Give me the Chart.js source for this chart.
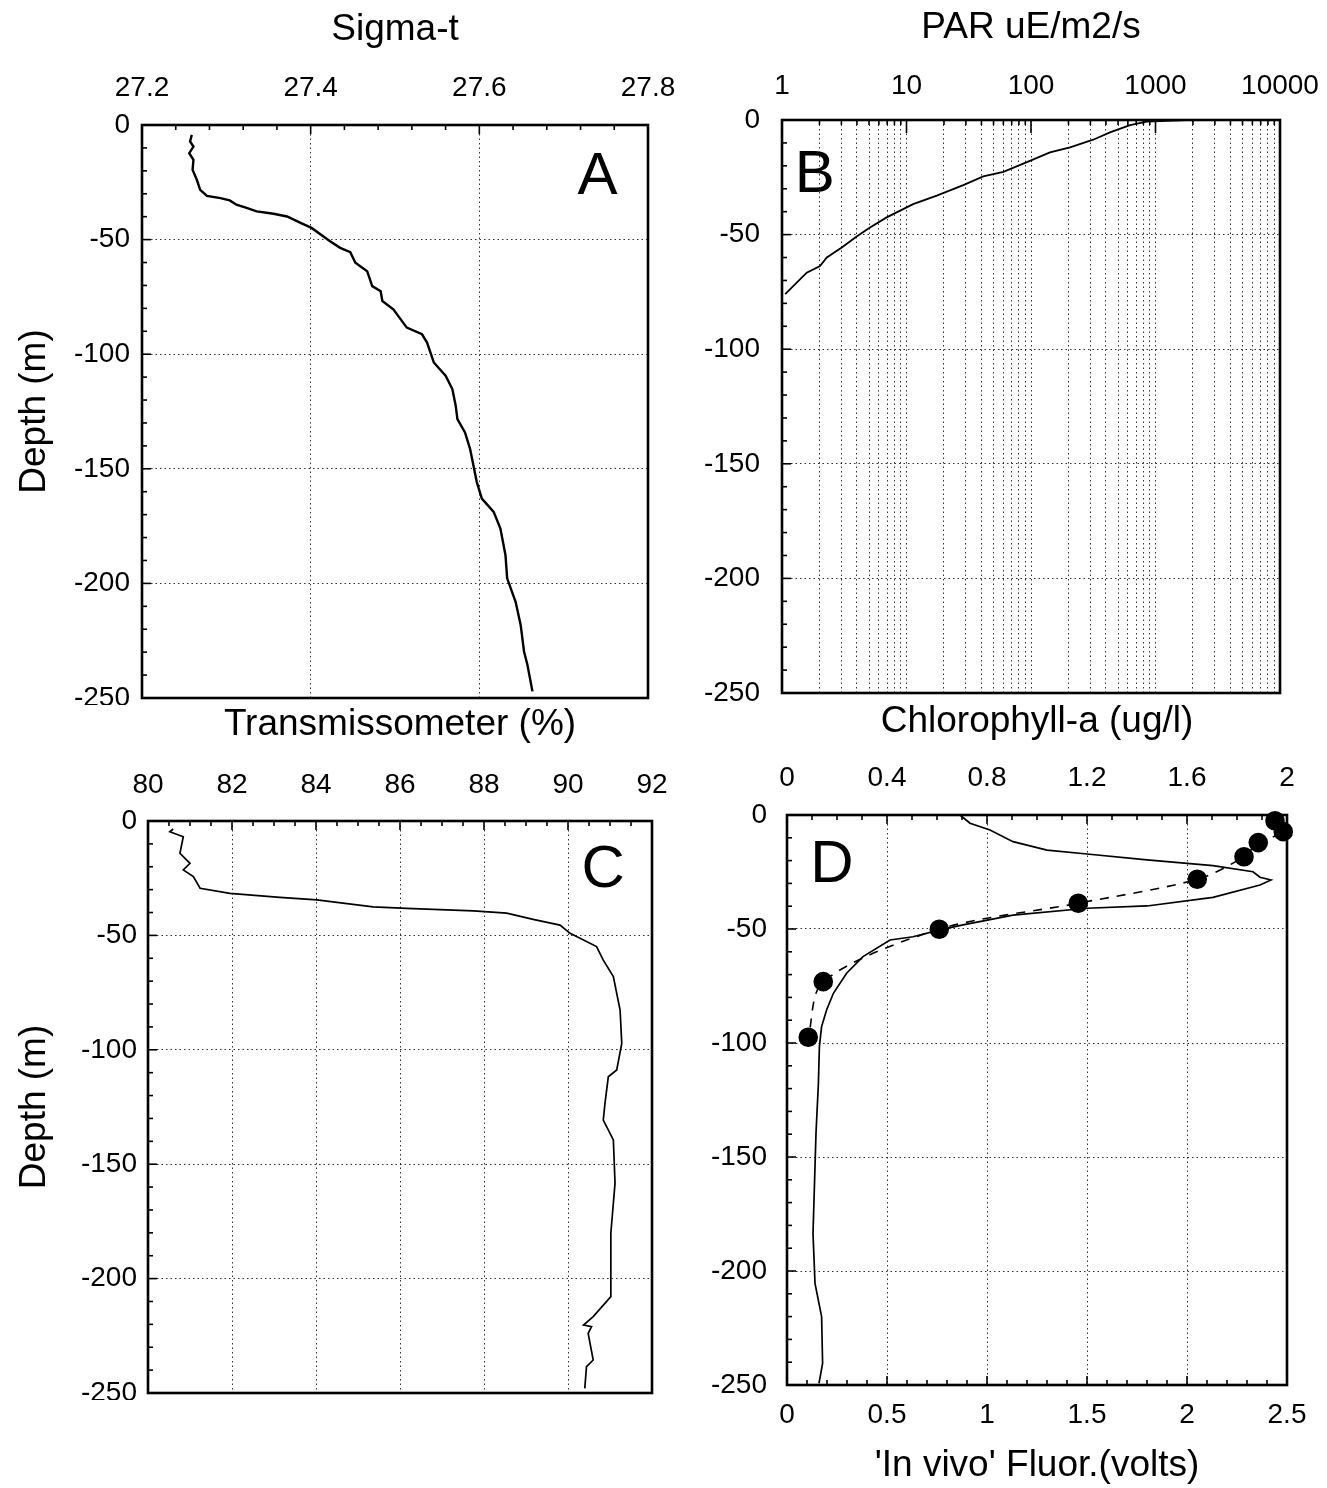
<!DOCTYPE html>
<html>
<head>
<meta charset="utf-8">
<script src="https://cdn.jsdelivr.net/npm/chart.js@4.4.0/dist/chart.umd.min.js"></script>
<style>
  body { margin: 0; background: #fff; width: 1327px; height: 1488px; position: relative; overflow: hidden; }
  canvas { position: absolute; }
</style>
</head>
<body>
<canvas id="chartA" width="680" height="705" style="left:0;top:0"></canvas>
<canvas id="chartB" width="637" height="705" style="left:690px;top:0"></canvas>
<canvas id="chartC" width="680" height="700" style="left:0;top:700px"></canvas>
<canvas id="chartD" width="637" height="788" style="left:690px;top:700px"></canvas>
<script>
// A: sigma-t profile
const sigmaDepth = [-4.3, -7.2, -9.4, -12.3, -15.2, -19.6, -23.9, -28.3, -30.9, -31.9, -32.9, -34.8, -36.2, -37.7,
  -38.7, -39.9, -42.7, -44.9, -50.7, -53.6, -55.5, -60.1, -63.8, -70.3, -72.5, -76.8, -80.4, -88.4, -91.3, -94.9,
  -103.6, -109.4, -115.2, -122.5, -128.3, -134.1, -141.3, -155.8, -163, -168.8, -176.1, -187.7, -197.8, -208,
  -218.1, -229.7, -235.5, -247.1];
const sigmaT = [27.259, 27.257, 27.261, 27.256, 27.261, 27.260, 27.265, 27.269, 27.277, 27.293, 27.304, 27.312,
  27.324, 27.336, 27.356, 27.372, 27.388, 27.401, 27.423, 27.435, 27.447, 27.453, 27.467, 27.473, 27.483, 27.485,
  27.498, 27.514, 27.532, 27.538, 27.546, 27.560, 27.568, 27.572, 27.574, 27.583, 27.589, 27.597, 27.603, 27.617,
  27.625, 27.631, 27.633, 27.643, 27.649, 27.653, 27.657, 27.663];

// B: PAR profile
const parDepth = [-76.0, -66.6, -63.7, -60.0, -55.6, -50.8, -46.9, -42.5, -36.7, -33.0, -28.4, -24.6, -22.6,
  -17.8, -14.1, -11.9, -8.6, -5.4, -2.2, -0.7, 0];
const parValues = [1.06, 1.58, 2.02, 2.29, 3.02, 3.98, 5.09, 6.93, 11.3, 17.5, 28.6, 41.4, 60, 98, 142, 206,
  316, 431, 624, 850, 1780];

// C: transmissometer profile
const transDepth = [-3.5, -4.7, -6.9, -14.1, -18.5, -21.4, -24.3, -29.4, -31.6, -33.4, -34.5, -37.5, -38.2,
  -39.3, -40.3, -43, -45.5, -49.1, -54.9, -60.8, -68, -82.6, -97.2, -108.8, -111.8, -123.4, -130.7, -139.4,
  -158.3, -180.2, -207.9, -216.6, -220.3, -221, -223.9, -235.6, -238.5, -248];
const transValues = [80.6, 80.52, 80.84, 80.76, 81.0, 80.84, 81.08, 81.24, 81.95, 83.14, 84.02, 85.36, 86.16,
  87.75, 88.54, 89.17, 89.81, 90.05, 90.68, 90.84, 91.08, 91.24, 91.28, 91.16, 90.96, 90.88, 90.84, 91.08,
  91.12, 91.02, 91.02, 90.6, 90.37, 90.56, 90.48, 90.6, 90.44, 90.4];

// D: in vivo fluorescence and chlorophyll-a
const fluorDepth = [0, -3.6, -6.6, -11.7, -15.4, -17.1, -19.7, -22.2, -24.9, -27.3, -28.5, -30.7, -36.1, -39.9,
  -40.9, -43.9, -48.2, -50.4, -53.4, -54.8, -62.1, -69.4, -78.2, -85.5, -92.8, -101.6, -117.7, -139.6, -183.5,
  -205.4, -220, -240.5, -249.3];
const fluorVolts = [0.865, 0.915, 1.015, 1.13, 1.30, 1.50, 1.80, 2.13, 2.33, 2.365, 2.42, 2.365, 2.13, 1.80,
  1.50, 1.13, 0.88, 0.765, 0.63, 0.515, 0.38, 0.298, 0.232, 0.198, 0.173, 0.162, 0.157, 0.145, 0.13, 0.14,
  0.173, 0.178, 0.16];
const chlDepth = [-2.5, -7.3, -12.1, -18.3, -28.2, -38.7, -50.1, -73.1, -97.5];
const chlValues = [1.952, 1.985, 1.885, 1.828, 1.641, 1.165, 0.609, 0.145, 0.085];

const depthTicks = [0, -50, -100, -150, -200, -250];
const sigmaTicks = [27.2, 27.4, 27.6, 27.8];
const parTicks = [1, 10, 100, 1000, 10000];
const transTicks = [80, 82, 84, 86, 88, 90, 92];
const fluorTicks = [0, 0.5, 1, 1.5, 2, 2.5];
const chlTicks = [0, 0.4, 0.8, 1.2, 1.6, 2];

const FONT = '"Liberation Sans", Arial, Helvetica, sans-serif';
Chart.defaults.font.family = FONT;
Chart.defaults.color = '#000';

const tickFont = { size: 28 };
const titleFont = { size: 37 };

function pts(xs, ys) {
  return xs.map((x, i) => ({ x: x, y: ys[i] }));
}

// scales should not push the plot area around
function fixSize(s, w, h) {
  if (w) s.width = w;
  if (h) s.height = h;
  s.paddingLeft = 0; s.paddingRight = 0; s.paddingTop = 0; s.paddingBottom = 0;
}

// inner tick marks, frame and panel letter
const frameMarks = {
  id: 'frameMarks',
  afterDatasetsDraw(chart, args, opts) {
    const { ctx, chartArea: a } = chart;
    ctx.save();
    ctx.strokeStyle = '#000';
    ctx.lineWidth = 1.6;
    (opts.marks || []).forEach(m => {
      const s = chart.scales[m.axis];
      const vals = [];
      if (m.log) {
        for (let k = 0; k < 4; k++) for (let j = 1; j < 10; j++) vals.push({ v: j * Math.pow(10, k), big: j === 1 });
      } else {
        const n = Math.round((s.max - s.min) / m.step);
        for (let i = 0; i <= n; i++) vals.push({ v: s.min + i * m.step, big: i % m.every === 0 });
      }
      vals.forEach(o => {
        const p = s.getPixelForValue(o.v);
        const len = o.big ? (m.log ? 13 : 9) : 5;
        ctx.beginPath();
        if (m.side === 'top') { ctx.moveTo(p, a.top); ctx.lineTo(p, a.top + len); }
        else if (m.side === 'bottom') { ctx.moveTo(p, a.bottom); ctx.lineTo(p, a.bottom - len); }
        else { ctx.moveTo(a.left, p); ctx.lineTo(a.left + len, p); }
        ctx.stroke();
      });
    });
    ctx.lineWidth = 2.6;
    ctx.strokeRect(a.left, a.top, a.right - a.left, a.bottom - a.top);
    if (opts.letter) {
      ctx.fillStyle = '#000';
      ctx.font = '60px ' + FONT;
      ctx.textAlign = 'center';
      ctx.textBaseline = 'middle';
      ctx.fillText(opts.letter, a.left + opts.lx * (a.right - a.left), a.top + opts.ly * (a.bottom - a.top));
    }
    ctx.restore();
  }
};

function gridOpts() {
  return { color: 'rgba(0,0,0,0.8)', lineWidth: 1, drawTicks: false };
}

function depthAxis(width, pad, withTitle) {
  return {
    type: 'linear', position: 'left', min: -250, max: 0,
    afterFit: s => fixSize(s, width, 0),
    afterBuildTicks: s => { s.ticks = depthTicks.map(v => ({ value: v })); },
    ticks: { padding: pad, font: tickFont, autoSkip: false, callback: v => String(v) },
    grid: gridOpts(),
    border: { display: false, dash: [1.5, 3] },
    title: { display: withTitle, text: 'Depth (m)', font: titleFont, padding: { top: 13, bottom: 0 } }
  };
}

function topAxis(cfg) {
  return Object.assign({
    position: 'top',
    afterFit: s => fixSize(s, 0, cfg.height),
    afterBuildTicks: s => { s.ticks = cfg.tickVals.map(v => ({ value: v })); },
    ticks: { padding: cfg.pad, font: tickFont, autoSkip: false, maxRotation: 0, callback: cfg.fmt },
    grid: gridOpts(),
    border: { display: false, dash: [1.5, 3] },
    title: { display: true, text: cfg.title, font: titleFont, padding: { top: cfg.titlePad, bottom: 0 } }
  }, cfg.extra || {});
}

function baseOptions(scales, padding, frame) {
  return {
    responsive: false,
    animation: false,
    events: [],
    layout: { padding: padding, autoPadding: false },
    scales: scales,
    plugins: { legend: { display: false }, tooltip: { enabled: false }, frameMarks: frame }
  };
}

function profile(data, width, extra) {
  return Object.assign({
    data: data, showLine: true, borderColor: '#000', borderWidth: width,
    pointRadius: 0, tension: 0, fill: false
  }, extra || {});
}

// panel A
new Chart(document.getElementById('chartA'), {
  type: 'scatter',
  data: { datasets: [profile(pts(sigmaT, sigmaDepth), 2.4)] },
  options: baseOptions({
    x: topAxis({ height: 125, pad: 20, titlePad: 8, title: 'Sigma-t', tickVals: sigmaTicks,
      fmt: v => v.toFixed(1), extra: { type: 'linear', min: 27.2, max: 27.8 } }),
    y: depthAxis(142, 12, true)
  }, { left: 0, top: 0, right: 32, bottom: 7 }, {
    letter: 'A', lx: 0.9, ly: 0.092,
    marks: [{ axis: 'x', side: 'top', step: 0.04, every: 5 }, { axis: 'y', side: 'left', step: 10, every: 5 }]
  }),
  plugins: [frameMarks]
});

// panel B (log scale gridlines every 1..9 per decade)
const parGrid = [];
for (let k = 0; k < 4; k++) for (let j = 1; j < 10; j++) parGrid.push(j * Math.pow(10, k));
parGrid.push(10000);

new Chart(document.getElementById('chartB'), {
  type: 'scatter',
  data: { datasets: [profile(pts(parValues, parDepth), 1.8)] },
  options: baseOptions({
    x: topAxis({ height: 120, pad: 17, titlePad: 6, title: 'PAR uE/m2/s', tickVals: parGrid,
      fmt: v => parTicks.includes(v) ? String(v) : '',
      extra: { type: 'logarithmic', min: 1, max: 10000 } }),
    y: depthAxis(92, 22, false)
  }, { left: 0, top: 0, right: 47, bottom: 12 }, {
    letter: 'B', lx: 0.066, ly: 0.096,
    marks: [{ axis: 'x', side: 'top', log: true }, { axis: 'y', side: 'left', step: 10, every: 5 }]
  }),
  plugins: [frameMarks]
});

// panel C
new Chart(document.getElementById('chartC'), {
  type: 'scatter',
  data: { datasets: [profile(pts(transValues, transDepth), 1.7)] },
  options: baseOptions({
    x: topAxis({ height: 121, pad: 19, titlePad: 3, title: 'Transmissometer (%)', tickVals: transTicks,
      fmt: v => String(v), extra: { type: 'linear', min: 80, max: 92 } }),
    y: depthAxis(148, 11, true)
  }, { left: 0, top: 0, right: 28, bottom: 7 }, {
    letter: 'C', lx: 0.903, ly: 0.086,
    marks: [{ axis: 'x', side: 'top', step: 0.5, every: 4 }, { axis: 'y', side: 'left', step: 10, every: 5 }]
  }),
  plugins: [frameMarks]
});

// panel D
new Chart(document.getElementById('chartD'), {
  type: 'scatter',
  data: {
    datasets: [
      profile(pts(fluorVolts, fluorDepth), 1.7, { xAxisID: 'x' }),
      profile(pts(chlValues, chlDepth), 1.6, {
        xAxisID: 'x2', borderDash: [9, 8], tension: 0.3, clip: false,
        pointRadius: 9, pointBackgroundColor: '#000', pointBorderColor: '#000'
      })
    ]
  },
  options: baseOptions({
    x: {
      type: 'linear', position: 'bottom', min: 0, max: 2.5,
      afterFit: s => fixSize(s, 0, 103),
      afterBuildTicks: s => { s.ticks = fluorTicks.map(v => ({ value: v })); },
      ticks: { padding: 13, font: tickFont, autoSkip: false, maxRotation: 0, callback: v => String(v) },
      grid: gridOpts(),
      border: { display: false, dash: [1.5, 3] },
      title: { display: true, text: "'In vivo' Fluor.(volts)", font: titleFont, padding: { top: 0, bottom: 0 } }
    },
    x2: topAxis({ height: 115, pad: 20, titlePad: 0, title: 'Chlorophyll-a (ug/l)', tickVals: chlTicks,
      fmt: v => String(Math.round(v * 10) / 10),
      extra: { type: 'linear', min: 0, max: 2, grid: { drawOnChartArea: false, drawTicks: false } } }),
    y: depthAxis(97, 20, false)
  }, { left: 0, top: 0, right: 40, bottom: 0 }, {
    letter: 'D', lx: 0.09, ly: 0.089,
    marks: [
      { axis: 'x', side: 'bottom', step: 0.1, every: 5 },
      { axis: 'x2', side: 'top', step: 0.1, every: 4 },
      { axis: 'y', side: 'left', step: 10, every: 5 }
    ]
  }),
  plugins: [frameMarks]
});
</script>
</body>
</html>
